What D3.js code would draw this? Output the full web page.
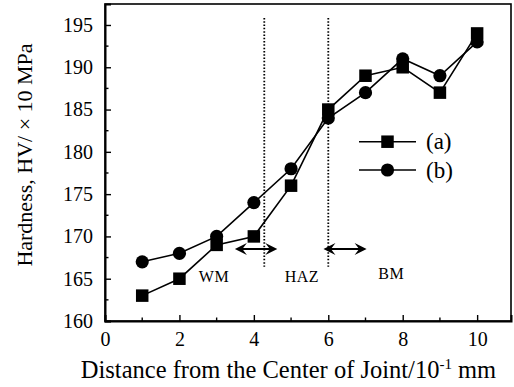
<!DOCTYPE html>
<html><head><meta charset="utf-8">
<script src="https://cdn.jsdelivr.net/npm/d3@7"></script>
<style>html,body{margin:0;padding:0;background:#fff;}svg{display:block;} svg text{font-family:"Liberation Serif","DejaVu Serif",serif;}</style>
</head><body>
<svg id="c" width="514" height="387"></svg>
<script>
const xs = [1,2,3,4,5,6,7,8,9,10];
const seriesA = [163,165,169,170,176,185,189,190,187,194];
const seriesB = [167,168,170,174,178,184,187,191,189,193];
const xTicks = [0,2,4,6,8,10];
const yTicks = [160,165,170,175,180,185,190,195];
const zoneLines = [4.28, 6.0];
const zoneLabels = [{t:"WM",x:2.93,y:164.65},{t:"HAZ",x:5.29,y:164.65},{t:"BM",x:7.69,y:164.97}];
const arrows = [{x1:3.49,x2:4.63,y:168.5},{x1:5.87,x2:7.03,y:168.5}];

const svg = d3.select("#c");
const L=105,R=511,T=4,B=321;
const x = d3.scaleLinear().domain([0,10.91]).range([L,R]);
const y = d3.scaleLinear().domain([160,197.48]).range([B,T]);
const font = '"Liberation Serif","DejaVu Serif",serif';

svg.append("rect").attr("x",L).attr("y",T).attr("width",R-L).attr("height",B-T)
  .attr("fill","none").attr("stroke","#000").attr("stroke-width",1.6);

const xAx = svg.append("g").attr("transform",`translate(0,${B})`)
  .call(d3.axisBottom(x).tickValues(xTicks).tickSize(-6).tickPadding(11).tickFormat(d3.format("d")));
const yAx = svg.append("g").attr("transform",`translate(${L},0)`)
  .call(d3.axisLeft(y).tickValues(yTicks).tickSize(-6).tickPadding(12).tickFormat(d3.format("d")));
[xAx,yAx].forEach(g=>{
  g.attr("font-family",null).attr("font-size",null);
  g.select(".domain").attr("stroke","#000").attr("stroke-width",2);
  g.selectAll(".tick line").attr("stroke","#000").attr("stroke-width",1.4);
  g.selectAll("text").style("font-family",font).style("font-size","20px").attr("fill","#000");
});
xAx.selectAll("text").attr("dy","0.71em");
svg.append("g").selectAll("line").data(d3.range(1,11,2)).join("line")
  .attr("x1",d=>x(d)).attr("x2",d=>x(d)).attr("y1",B).attr("y2",B-3.5)
  .attr("stroke","#000").attr("stroke-width",1.4);
svg.append("g").selectAll("line").data(d3.range(162.5,197.5,5)).join("line")
  .attr("x1",L).attr("x2",L+3.5).attr("y1",d=>y(d)).attr("y2",d=>y(d))
  .attr("stroke","#000").attr("stroke-width",1.4);

svg.append("g").selectAll("line").data(zoneLines).join("line")
  .attr("x1",d=>x(d)).attr("x2",d=>x(d)).attr("y1",y(195.83)).attr("y2",y(166.4))
  .attr("stroke","#000").attr("stroke-width",1.8).attr("stroke-dasharray","1.5,1.8");

const ag = svg.append("g");
arrows.forEach(a=>{
  const x1=x(a.x1), x2=x(a.x2), yy=y(a.y);
  ag.append("line").attr("x1",x1+4).attr("x2",x2-4).attr("y1",yy).attr("y2",yy)
    .attr("stroke","#000").attr("stroke-width",2);
  ag.append("path").attr("d",`M${x1},${yy}L${x1+12},${yy-6}L${x1+7.5},${yy}L${x1+12},${yy+6}Z`).attr("fill","#000");
  ag.append("path").attr("d",`M${x2},${yy}L${x2-12},${yy-6}L${x2-7.5},${yy}L${x2-12},${yy+6}Z`).attr("fill","#000");
});

svg.append("g").selectAll("text").data(zoneLabels).join("text")
  .attr("x",d=>x(d.x)).attr("y",d=>y(d.y)).attr("text-anchor","middle")
  .style("font-family",font).style("font-size","16px").attr("letter-spacing","0.5px").text(d=>d.t);

const line = d3.line().x((d,i)=>x(xs[i])).y(d=>y(d));
svg.append("path").datum(seriesA).attr("d",line).attr("fill","none").attr("stroke","#000").attr("stroke-width",1.6);
svg.append("path").datum(seriesB).attr("d",line).attr("fill","none").attr("stroke","#000").attr("stroke-width",1.6);
const sq=12.5, cr=6.6;
svg.append("g").selectAll("rect").data(seriesA).join("rect")
  .attr("x",(d,i)=>x(xs[i])-sq/2).attr("y",d=>y(d)-sq/2).attr("width",sq).attr("height",sq).attr("fill","#000");
svg.append("g").selectAll("circle").data(seriesB).join("circle")
  .attr("cx",(d,i)=>x(xs[i])).attr("cy",d=>y(d)).attr("r",cr).attr("fill","#000");

const lg = svg.append("g");
[[141.7,"(a)","sq"],[170,"(b)","ci"]].forEach(([ly,t,m])=>{
  lg.append("line").attr("x1",359).attr("x2",416).attr("y1",ly).attr("y2",ly).attr("stroke","#000").attr("stroke-width",1.6);
  if(m==="sq") lg.append("rect").attr("x",387.5-sq/2).attr("y",ly-sq/2).attr("width",sq).attr("height",sq);
  else lg.append("circle").attr("cx",387.5).attr("cy",ly).attr("r",cr);
  lg.append("text").attr("x",426).attr("y",ly+7.5).style("font-family",font).style("font-size","23px").text(t);
});

const xt = svg.append("text").attr("x",288.5).attr("y",378).attr("text-anchor","middle")
  .style("font-family",font).style("font-size","24.5px");
xt.append("tspan").text("Distance from the Center of Joint/10");
xt.append("tspan").attr("dy",-9).style("font-size","15px").text("-1");
xt.append("tspan").attr("dy",9).text(" mm");
svg.append("text").attr("transform","translate(32,155) rotate(-90)").attr("text-anchor","middle")
  .style("font-family",font).style("font-size","22px").text("Hardness, HV/ × 10 MPa");
</script>
</body></html>
